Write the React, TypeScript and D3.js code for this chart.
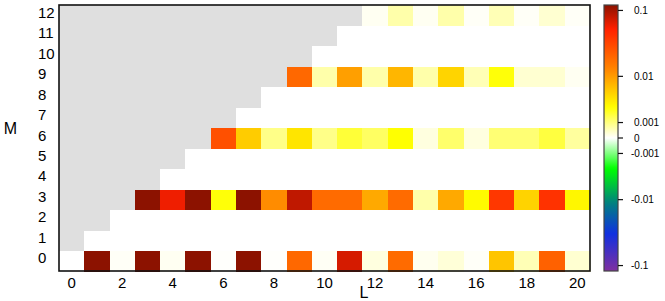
import * as React from "react";
import * as d3 from "d3";
import { useEffect, useRef } from "react";

// L runs 0..20, M runs 0..12; cells with L < M are undefined (grey)
const lValues = d3.range(0, 21);
const mValues = d3.range(0, 13);
const xTicks = [0, 2, 4, 6, 8, 10, 12, 14, 16, 18, 20];

// non-zero rows, each listed from L = M up to L = 20
const row0 = [0, 0.12, 0.00005, 0.12, 0.00008, 0.12, 0.00002, 0.12, 0.00002, 0.02, 0.00006,
  0.072, 0.0002, 0.019, 0.0001, 0.00025, 0.00004, 0.006, 0.0005, 0.022, 0.0003];
const row3 = [0.12, 0.06, 0.12, 0.0025, 0.12, 0.012, 0.084, 0.019, 0.019, 0.0085, 0.019,
  0.0006, 0.0085, 0.0028, 0.039, 0.005, 0.042, 0.003];
const row6 = [0.028, 0.0055, 0.0009, 0.0039, 0.0009, 0.0018, 0.0013, 0.0026, 0.0002, 0.0012,
  0.0002, 0.0011, 0.0011, 0.0017, 0.0007];
const row9 = [0.02, 0.0006, 0.0096, 0.0006, 0.0073, 0.0006, 0.0049, 0.0005, 0.0025, 0.0003,
  0.0003, 0.00008];
const row12 = [0.00008, 0.0006, 0.00008, 0.0006, 0.00005, 0.0005, 0.00005, 0.0003, 0.00005];

const rows: Record<number, number[]> = { 0: row0, 3: row3, 6: row6, 9: row9, 12: row12 };

const cbTicks = [0.1, 0.01, 0.001, 0, -0.001, -0.01, -0.1];
const cbLabels = ["0.1", "0.01", "0.001", "0", "-0.001", "-0.01", "-0.1"];

// colour map on normalised symlog position
const mapPos = [-1, -0.72, -0.49, -0.23, 0, 0.23, 0.51, 0.82, 1];
const mapColors = ["#8030a0", "#1030e0", "#008080", "#00ff00", "#ffffff", "#ffff00", "#ff8800", "#ff2000", "#8c1200"];

const App: React.FunctionComponent = () => {
  const svgRef = useRef<SVGSVGElement>(null);

  useEffect(() => {
    const w = 665;
    const h = 301;
    const left = 59, right = 590, top = 5, bottom = 271;
    const font = "Liberation Sans, Arial, Helvetica, sans-serif";

    const svg = d3.select(svgRef.current).attr("width", w).attr("height", h);
    svg.selectAll("*").remove();

    const x = d3.scaleBand<number>().domain(lValues).range([left, right]);
    const y = d3.scaleBand<number>().domain(mValues.slice().reverse()).range([top, bottom]);

    const c = 0.0015;
    const norm = d3.scaleSymlog().constant(c).domain([-0.12, 0.12]).range([-1, 1]).clamp(true);
    const cmap = d3.scaleLinear<string>().domain(mapPos).range(mapColors).interpolate(d3.interpolateRgb);
    const color = (v: number) => cmap(norm(v));

    const cells: { l: number; m: number; v: number | null }[] = [];
    mValues.forEach((m) => {
      lValues.forEach((l) => {
        if (l < m) cells.push({ l, m, v: null });
        else cells.push({ l, m, v: rows[m] ? rows[m][l - m] : 0 });
      });
    });

    svg
      .append("g")
      .attr("shape-rendering", "crispEdges")
      .selectAll("rect")
      .data(cells)
      .join("rect")
      .attr("x", (d) => x(d.l))
      .attr("y", (d) => y(d.m))
      .attr("width", x.bandwidth() + 0.5)
      .attr("height", y.bandwidth() + 0.5)
      .attr("fill", (d) => (d.v === null ? "#dfdfdf" : color(d.v)));

    svg
      .append("rect")
      .attr("x", left)
      .attr("y", top)
      .attr("width", right - left)
      .attr("height", bottom - top)
      .attr("fill", "none")
      .attr("stroke", "#111")
      .attr("stroke-width", 1.6);

    // tick labels
    svg
      .append("g")
      .selectAll("text")
      .data(xTicks)
      .join("text")
      .attr("x", (d) => x(d)! + x.bandwidth() / 2)
      .attr("y", 288)
      .attr("text-anchor", "middle")
      .attr("font-family", font)
      .attr("font-size", 15)
      .text((d) => d);

    svg
      .append("g")
      .selectAll("text")
      .data(mValues)
      .join("text")
      .attr("x", 38)
      .attr("y", (d) => y(d)! + y.bandwidth() / 2 + 2.5)
      .attr("font-family", font)
      .attr("font-size", 15)
      .text((d) => d);

    svg.append("text").attr("x", 364).attr("y", 298).attr("text-anchor", "middle")
      .attr("font-family", font).attr("font-size", 16).text("L");
    svg.append("text").attr("x", 10.5).attr("y", 134).attr("text-anchor", "middle")
      .attr("font-family", font).attr("font-size", 16).text("M");

    // colour bar
    const cbX = 604, cbW = 14;
    const cbY = d3.scaleSymlog().constant(c).domain([-0.12, 0.12]).range([bottom, top]);

    const grad = svg.append("defs").append("linearGradient")
      .attr("id", "cbgrad").attr("x1", 0).attr("y1", 1).attr("x2", 0).attr("y2", 0);
    grad.selectAll("stop")
      .data(d3.range(0, 101))
      .join("stop")
      .attr("offset", (d) => d / 100)
      .attr("stop-color", (d) => cmap(d / 50 - 1));

    svg.append("rect")
      .attr("x", cbX).attr("y", top).attr("width", cbW).attr("height", bottom - top)
      .attr("fill", "url(#cbgrad)").attr("stroke", "#444").attr("stroke-width", 1.2);

    const tk = svg.append("g");
    tk.selectAll("line")
      .data(cbTicks)
      .join("line")
      .attr("x1", cbX + cbW).attr("x2", cbX + cbW + 5)
      .attr("y1", (d) => cbY(d)).attr("y2", (d) => cbY(d))
      .attr("stroke", "#111").attr("stroke-width", 1.2);
    tk.selectAll("text")
      .data(cbTicks)
      .join("text")
      .attr("x", (d) => (d < 0 ? 631 : 634))
      .attr("y", (d) => cbY(d) + 3.5)
      .attr("font-family", font)
      .attr("font-size", 10)
      .text((_, i) => cbLabels[i]);
  }, []);

  return <svg ref={svgRef} style={{ position: "absolute", left: 0, top: 0 }}></svg>;
};

export default App;
